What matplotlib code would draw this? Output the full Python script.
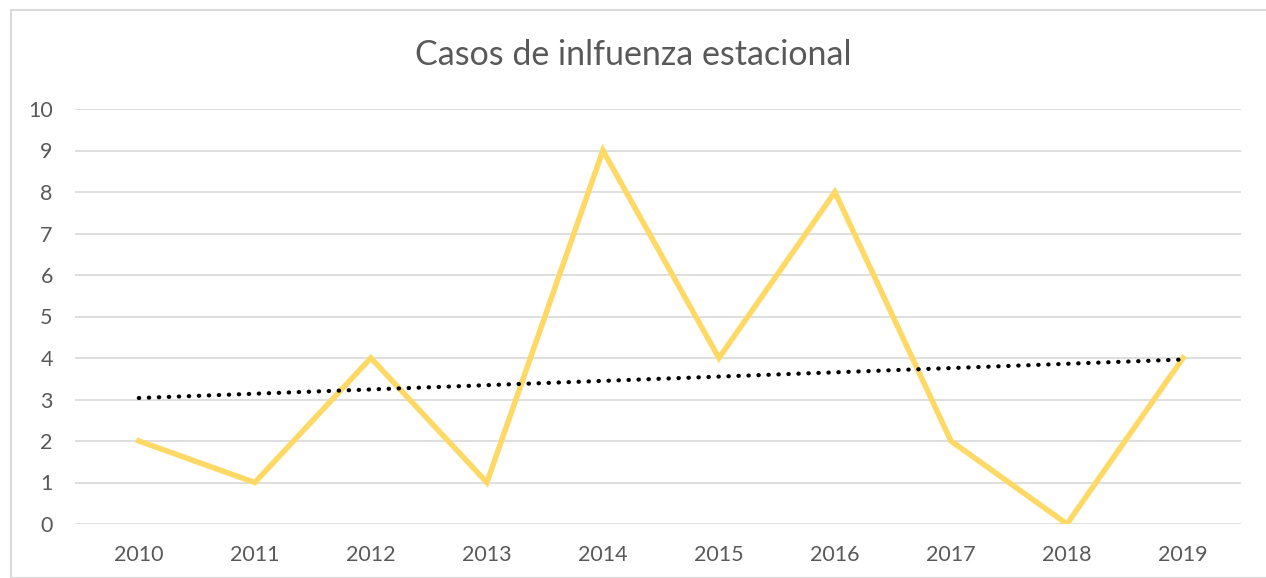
import numpy as np
import matplotlib
matplotlib.use("Agg")
from matplotlib import pyplot as plt
from matplotlib.patches import Rectangle

years = ['2010', '2011', '2012', '2013', '2014', '2015', '2016', '2017', '2018', '2019']
casos = [2, 1, 4, 1, 9, 4, 8, 2, 0, 4]

textcolor = '#595959'
gridcolor = '#d9d9d9'
plt.rcParams['font.family'] = ['Lato', 'DejaVu Sans']

fig = plt.figure(figsize=(12.66, 5.78), dpi=100)
ax = fig.add_axes([75/1266, 1-524/578, (1241-75)/1266, (524-109)/578])

# chart border
fig.patches.append(Rectangle((11/1266, 0), 1.0, 1-10/578, transform=fig.transFigure,
                             fill=False, edgecolor='#d9d9d9', linewidth=1.5))

x = np.arange(len(years))
ax.plot(x, casos, color='#ffd966', linewidth=4, solid_joinstyle='miter', zorder=3)

# linear trend line
slope, intercept = np.polyfit(x, casos, 1)
ax.plot(x, slope*x + intercept, color='black', linewidth=3.0,
        linestyle=(0, (0.1, 2.3)), dash_capstyle='round', zorder=4)

ax.set_xlim(-0.55, 9.5)
ax.set_ylim(0, 10)
ax.set_xticks(x)
ax.set_xticklabels(years)
ax.set_yticks(range(0, 11))

ax.tick_params(axis='both', length=0, labelsize=15.5, colors=textcolor)
ax.tick_params(axis='x', pad=15)
ax.tick_params(axis='y', pad=16)
ax.grid(axis='y', color=gridcolor, linewidth=1.2)
ax.set_axisbelow(True)
for s in ax.spines.values():
    s.set_visible(False)

fig.text(0.5, 1-55/578, 'Casos de inlfuenza estacional', ha='center', va='center',
         fontsize=24.5, color=textcolor)

fig.savefig('out.png', dpi=100)
